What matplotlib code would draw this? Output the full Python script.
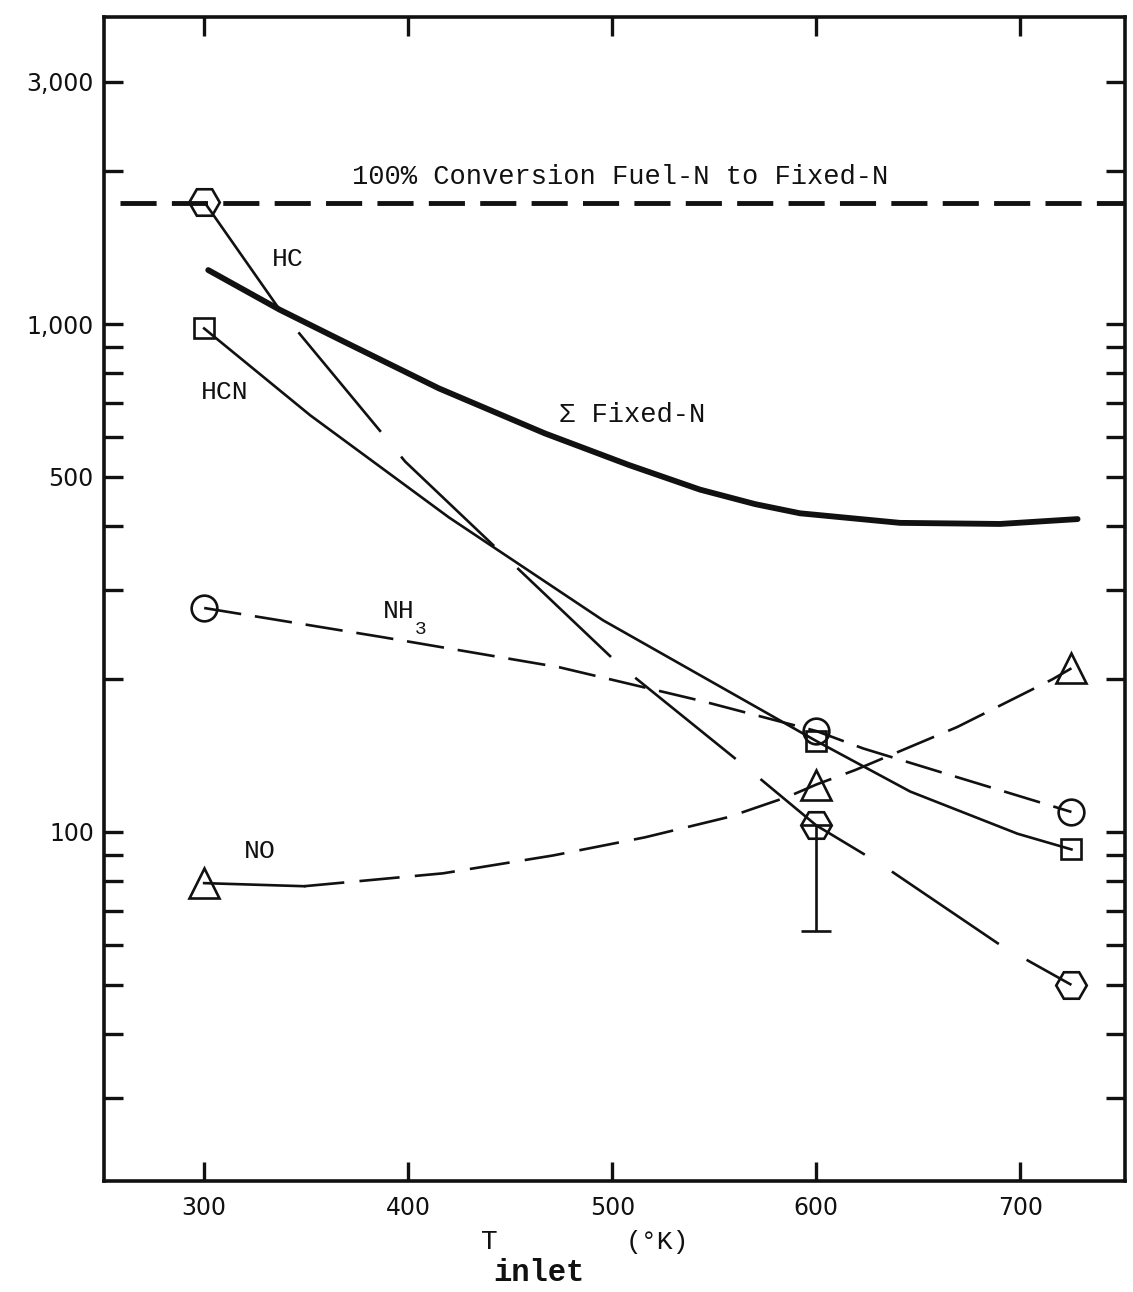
import matplotlib
matplotlib.use("Agg")
import matplotlib.pyplot as plt
from matplotlib.ticker import FixedLocator, FixedFormatter, NullLocator

plt.rcParams['lines.scale_dashes'] = False

# measured points (T inlet in K)
t_pts = [300, 600, 725]
hc_pts = [1740, 103, 50]
hcn_pts = [980, 151, 92.4]
nh3_pts = [276, 158, 109.5]
no_pts = [79.3, 124, 210]
hc_err_low = 63.8   # bottom of the error bar on HC at 600 K

# curves
hc_t = [300, 337, 389, 398.5, 503.6, 570.8, 600, 633, 690.4, 725]
hc_v = [1740, 1067, 597, 536, 213, 128.9, 103, 85.7, 59.8, 50]
hcn_t = [300, 352, 420, 495.5, 600, 646, 698.6, 725]
hcn_v = [980, 661, 416, 261, 151, 120.1, 99.2, 92.4]
nh3_t = [300, 387, 474, 544, 600, 623, 669, 725]
nh3_v = [276, 242, 211, 181, 158, 146, 128.2, 109.5]
no_t = [300, 349, 417, 471, 516, 557, 586, 600, 619, 669, 715.5, 725]
no_v = [79.3, 78.2, 82.9, 89.9, 97.6, 107, 117.3, 124, 132.4, 160.9, 199.6, 210]
sum_t = [302, 337, 369, 415, 467, 508, 543, 570, 592, 641, 690, 728]
sum_v = [1277, 1067, 921, 747, 609, 528, 472, 442, 424, 406, 404, 413]
full_conv_t = [259, 751]
full_conv_v = [1730, 1730]

xticks = [300, 400, 500, 600, 700]
yticks = [30, 40, 50, 60, 70, 80, 90, 100, 200, 300, 400, 500, 600, 700, 800, 900, 1000, 2000, 3000]
ylabels = ['', '', '', '', '', '', '', '100', '', '', '', '500', '', '', '', '', '1,000', '', '3,000']

mono = 'Liberation Mono'
ink = '#111111'

fig = plt.figure(figsize=(11.33, 12.92), dpi=100)
ax = fig.add_axes([0.0914, 0.0863, 0.9011, 0.9009])
ax.set_yscale('log')
ax.set_xlim(250.7, 751)
ax.set_ylim(20.6, 4030)

lw = 1.9
# 100% conversion line
ax.plot(full_conv_t, full_conv_v, color=ink, lw=3.5, dashes=(26, 11))
# sum of fixed N
ax.plot(sum_t, sum_v, color=ink, lw=4.2, solid_capstyle='round', solid_joinstyle='round')
# HC
ax.plot(hc_t, hc_v, color=ink, lw=lw, dashes=(93, 23))
ax.plot(t_pts, hc_pts, ls='none', marker='H', ms=22, mfc='none', mec=ink, mew=1.9)
ax.errorbar([t_pts[1]], [hc_pts[1]], yerr=[[hc_pts[1] - hc_err_low], [0]],
            fmt='none', ecolor=ink, elinewidth=lw, capsize=11, capthick=lw)
# HCN
ax.plot(hcn_t, hcn_v, color=ink, lw=lw, solid_joinstyle='round')
ax.plot(t_pts, hcn_pts, ls='none', marker='s', ms=14.5, mfc='none', mec=ink, mew=1.9)
# NH3
ax.plot(nh3_t, nh3_v, color=ink, lw=lw, dashes=(27, 10))
ax.plot(t_pts, nh3_pts, ls='none', marker='o', ms=18.5, mfc='none', mec=ink, mew=1.9)
# NO
ax.plot(no_t[:2], no_v[:2], color=ink, lw=lw)
ax.plot(no_t[1:], no_v[1:], color=ink, lw=lw, dashes=(29, 11))
ax.plot(t_pts, no_pts, ls='none', marker='^', ms=22, mfc='none', mec=ink, mew=1.9)

# labels
ax.text(0.506, 0.862, '100% Conversion Fuel-N to Fixed-N', transform=ax.transAxes,
        ha='center', va='center', fontsize=19.5, family=mono, color=ink)
ax.text(0.180, 0.792, 'HC', transform=ax.transAxes, ha='center', va='center',
        fontsize=19, family=mono, color=ink)
ax.text(0.119, 0.677, 'HCN', transform=ax.transAxes, ha='center', va='center',
        fontsize=19, family=mono, color=ink)
ax.text(0.518, 0.658, '\u03a3 Fixed-N', transform=ax.transAxes, ha='center', va='center',
        fontsize=19.5, family=mono, color=ink)
ax.text(0.289, 0.489, 'NH', transform=ax.transAxes, ha='center', va='center',
        fontsize=19, family=mono, color=ink)
ax.text(0.311, 0.473, '3', transform=ax.transAxes, ha='center', va='center',
        fontsize=14, family=mono, color=ink)
ax.text(0.153, 0.283, 'NO', transform=ax.transAxes, ha='center', va='center',
        fontsize=19, family=mono, color=ink)

# axes style
for s in ax.spines.values():
    s.set_linewidth(2.6)
    s.set_color(ink)
ax.xaxis.set_major_locator(FixedLocator(xticks))
ax.xaxis.set_minor_locator(NullLocator())
ax.yaxis.set_major_locator(FixedLocator(yticks))
ax.yaxis.set_major_formatter(FixedFormatter(ylabels))
ax.yaxis.set_minor_locator(NullLocator())
ax.tick_params(axis='both', which='major', direction='in', length=14, width=2.4,
               color=ink, labelsize=17, labelcolor=ink, top=True, right=True)
ax.tick_params(axis='x', pad=11)
ax.tick_params(axis='y', pad=7)
for lab in ax.get_xticklabels() + ax.get_yticklabels():
    lab.set_family('DejaVu Sans')

fig.text(0.4320, 0.0385, 'T', ha='center', va='center', fontsize=20, family=mono, color=ink)
fig.text(0.4760, 0.0145, 'inlet', ha='center', va='center', fontsize=22, family=mono,
         weight='bold', color=ink)
fig.text(0.5799, 0.0385, '(\u00b0K)', ha='center', va='center', fontsize=19, family=mono, color=ink)

fig.savefig('out.png', dpi=100, facecolor='white')
